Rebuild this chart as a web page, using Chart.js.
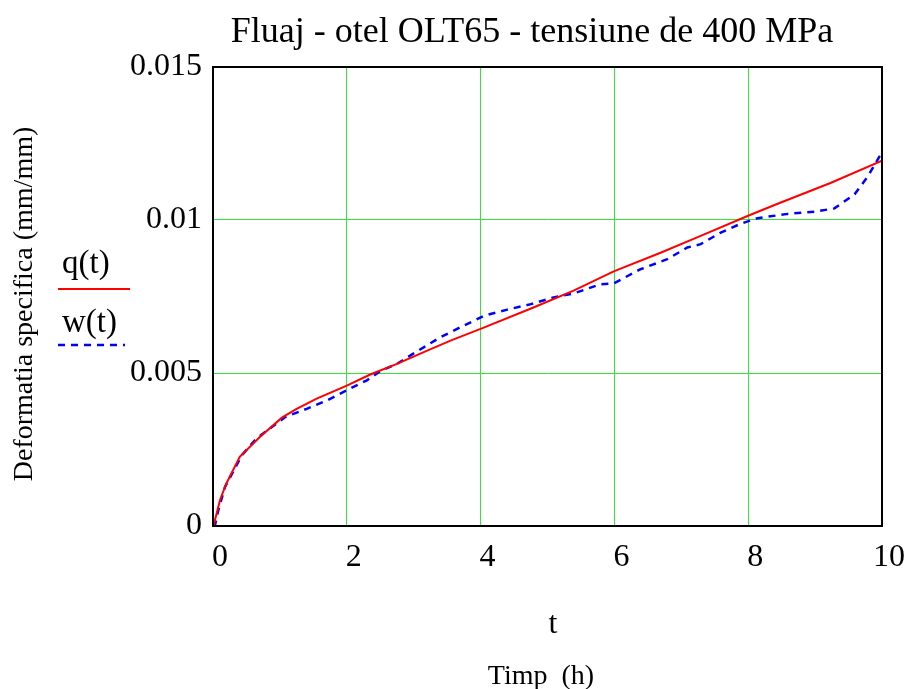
<!DOCTYPE html>
<html>
<head>
<meta charset="utf-8">
<script src="https://cdn.jsdelivr.net/npm/chart.js@4.4.0/dist/chart.umd.min.js"></script>
<style>
  html, body { margin: 0; padding: 0; background: #fff; }
  #wrap { width: 905px; height: 689px; }
</style>
</head>
<body>
<div id="wrap"><canvas id="chart" width="905" height="689"></canvas></div>
<script>
// q(t) - curba de regresie
const tQ = [0, 0.015, 0.105, 0.2, 0.4, 0.7, 1.03, 1.25, 1.55, 2.0, 2.35, 2.75, 3.15, 3.55, 4.0, 4.79, 5.39, 5.99, 6.69, 7.29, 7.99, 8.44, 9.23, 10.0];
const qVals = [0, 0.000065, 0.00085, 0.00139, 0.00226, 0.00291, 0.00354, 0.00383, 0.00416, 0.00459, 0.00495, 0.0053, 0.00568, 0.00606, 0.00644, 0.00714, 0.00769, 0.00832, 0.00893, 0.00948, 0.01013, 0.01053, 0.01121, 0.01194];

// w(t) - date experimentale
const tW = [0, 0.03, 0.08, 0.18, 0.43, 0.65, 1.08, 1.4, 1.7, 2.05, 2.3, 2.5, 2.75, 3.0, 3.4, 3.75, 4.05, 4.4, 4.75, 5.09, 5.39, 5.79, 5.99, 6.39, 6.79, 7.09, 7.29, 7.59, 7.89, 8.14, 8.59, 8.99, 9.29, 9.59, 9.79, 9.98];
const wVals = [0, 0.00003, 0.00052, 0.00128, 0.00231, 0.00286, 0.00356, 0.00383, 0.0041, 0.00449, 0.00476, 0.00506, 0.0053, 0.00564, 0.00617, 0.00655, 0.00687, 0.00707, 0.00725, 0.00747, 0.0076, 0.0079, 0.00793, 0.00839, 0.00872, 0.0091, 0.00921, 0.00959, 0.00988, 0.01006, 0.0102, 0.01027, 0.01038, 0.01084, 0.01143, 0.01214];

// etichete axe
const xTicks = [0, 2, 4, 6, 8, 10];
const xTickLabels = ['0', '2', '4', '6', '8', '10'];
const yTicks = [0, 0.005, 0.01, 0.015];
const yTickLabels = ['0', '0.005', '0.01', '0.015'];

const serif = "'Liberation Serif', 'Times New Roman', serif";
const gridGreen = '#33e633';

function points(xs, ys) {
    return xs.map(function(x, i) { return { x: x, y: ys[i] }; });
}

// chenar, titlu, etichete si legenda in stil Mathcad
const decor = {
    id: 'decor',
    afterDraw: function(chart) {
        const c = chart.ctx;
        const a = chart.chartArea;
        c.save();
        c.strokeStyle = '#000';
        c.lineWidth = 2;
        c.strokeRect(a.left, a.top, a.right - a.left, a.bottom - a.top);

        c.fillStyle = '#000';
        c.textAlign = 'center';
        c.textBaseline = 'middle';
        c.font = '36px ' + serif;
        c.fillText('Fluaj - otel OLT65 - tensiune de 400 MPa', 532, 33);

        c.font = '32px ' + serif;
        c.fillText('t', 553, 625);
        c.font = '28px ' + serif;
        c.fillText('Timp  (h)', 541, 677);

        c.save();
        c.translate(25, 304);
        c.rotate(-Math.PI / 2);
        c.font = '28px ' + serif;
        c.fillText('Deformatia specifica (mm/mm)', 0, 0);
        c.restore();

        // legenda
        const ds = chart.data.datasets;
        c.textAlign = 'left';
        c.textBaseline = 'alphabetic';
        c.font = '33px ' + serif;
        c.fillText('q(t)', 62, 273);
        c.fillText('w(t)', 62, 332);
        c.lineWidth = 2;
        c.strokeStyle = ds[0].borderColor;
        c.beginPath(); c.moveTo(58, 289); c.lineTo(130, 289); c.stroke();
        c.lineWidth = 2.5;
        c.strokeStyle = ds[1].borderColor;
        c.setLineDash(ds[1].borderDash);
        c.beginPath(); c.moveTo(58, 345); c.lineTo(125, 345); c.stroke();
        c.restore();
    }
};

new Chart(document.getElementById('chart'), {
    type: 'scatter',
    data: {
        datasets: [
            {
                label: 'q(t)',
                data: points(tQ, qVals),
                showLine: true,
                borderColor: '#ff0000',
                borderWidth: 2,
                pointRadius: 0,
                tension: 0
            },
            {
                label: 'w(t)',
                data: points(tW, wVals),
                showLine: true,
                borderColor: '#0000ff',
                borderWidth: 2.5,
                borderDash: [7, 6],
                pointRadius: 0,
                tension: 0
            }
        ]
    },
    options: {
        responsive: false,
        animation: false,
        layout: { padding: { top: 67, right: 23, left: 0, bottom: 0 } },
        plugins: {
            legend: { display: false },
            title: { display: false },
            tooltip: { enabled: false }
        },
        scales: {
            x: {
                type: 'linear',
                min: 0,
                max: 10,
                afterBuildTicks: function(s) { s.ticks = xTicks.map(function(v) { return { value: v }; }); },
                afterFit: function(s) { s.height = 163; s.paddingLeft = 0; s.paddingRight = 0; },
                ticks: {
                    padding: 12,
                    labelOffset: 7,
                    color: '#000',
                    font: { family: serif, size: 32 },
                    maxRotation: 0,
                    callback: function(v) { return xTickLabels[xTicks.indexOf(v)]; }
                },
                grid: { color: gridGreen, lineWidth: 1, drawTicks: false },
                border: { display: false }
            },
            y: {
                type: 'linear',
                min: 0,
                max: 0.015,
                afterBuildTicks: function(s) { s.ticks = yTicks.map(function(v) { return { value: v }; }); },
                afterFit: function(s) { s.width = 213; },
                ticks: {
                    padding: 11,
                    color: '#000',
                    font: { family: serif, size: 32 },
                    callback: function(v) { return yTickLabels[yTicks.indexOf(v)]; }
                },
                grid: { color: gridGreen, lineWidth: 1, drawTicks: false },
                border: { display: false }
            }
        }
    },
    plugins: [decor]
});
</script>
</body>
</html>
